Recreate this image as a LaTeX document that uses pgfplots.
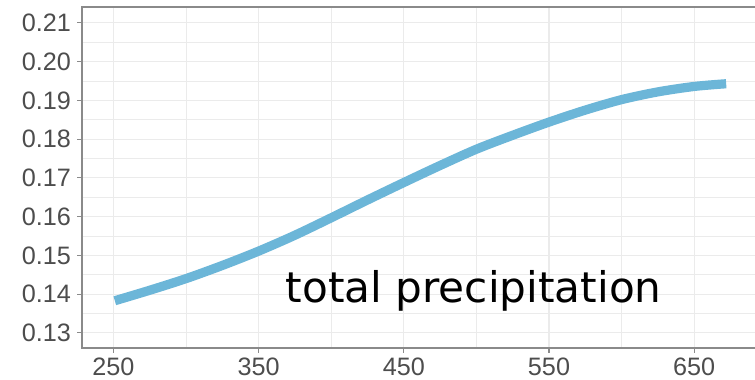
\documentclass[border=0pt]{standalone}
\usepackage{pgfplots}
\pgfplotsset{compat=1.18}
\usepackage{fontspec}
\setmainfont{Liberation Sans}
\newfontfamily\labelfont{DejaVu Sans}

\definecolor{curveblue}{HTML}{6CB6D8}
\definecolor{gridgray}{HTML}{EBEBEB}
\definecolor{framegray}{HTML}{8A8A8A}
\definecolor{ticktext}{HTML}{4D4D4D}

\begin{document}
\begin{tikzpicture}
\useasboundingbox (0,0) rectangle (377.5pt,190pt);
\clip (0,0) rectangle (377.5pt,190pt);
\begin{axis}[
  at={(41pt,16pt)}, anchor=south west,
  scale only axis,
  width=339pt, height=170.5pt,
  xmin=228.4, xmax=695.3,
  ymin=0.1261, ymax=0.2141,
  xtick={250,350,450,550,650},
  ytick={0.13,0.14,0.15,0.16,0.17,0.18,0.19,0.20,0.21},
  minor xtick={300,400,500,600},
  minor ytick={0.125,0.135,0.145,0.155,0.165,0.175,0.185,0.195,0.205},
  y tick label style={/pgf/number format/fixed, /pgf/number format/fixed zerofill, /pgf/number format/precision=2},
  scaled y ticks=false,
  /pgf/number format/assume math mode=true,
  tick label style={font=\fontsize{12.6pt}{14pt}\selectfont, text=ticktext, inner sep=0pt},
  yticklabel style={anchor=east, xshift=-3pt},
  xticklabel style={anchor=north, yshift=-2.5pt},
  tick align=outside,
  major tick length=2.4pt,
  minor tick length=0pt,
  tick style={color=framegray, line width=0.6pt},
  xtick pos=bottom, ytick pos=left,
  grid=both,
  major grid style={color=gridgray, line width=0.55pt},
  minor grid style={color=gridgray, line width=0.3pt},
  axis line style={color=framegray, line width=0.7pt},
  clip=true,
]
\addplot[color=curveblue, line width=4.6pt, smooth, line cap=butt] coordinates {
  (251,0.1383) (275,0.1410) (300,0.1440) (325,0.1474) (350,0.1511)
  (375,0.1552) (400,0.1597) (425,0.1643) (450,0.1688) (475,0.1732)
  (500,0.1774) (525,0.1810) (550,0.1844) (575,0.1875) (600,0.1902)
  (625,0.1922) (650,0.1936) (672,0.1943)
};
\node[anchor=base west, inner sep=0pt, font=\labelfont\fontsize{21.1pt}{24pt}\selectfont]
  at (axis cs:368.5,0.1378) {total precipitation};
\end{axis}
\end{tikzpicture}
\end{document}
